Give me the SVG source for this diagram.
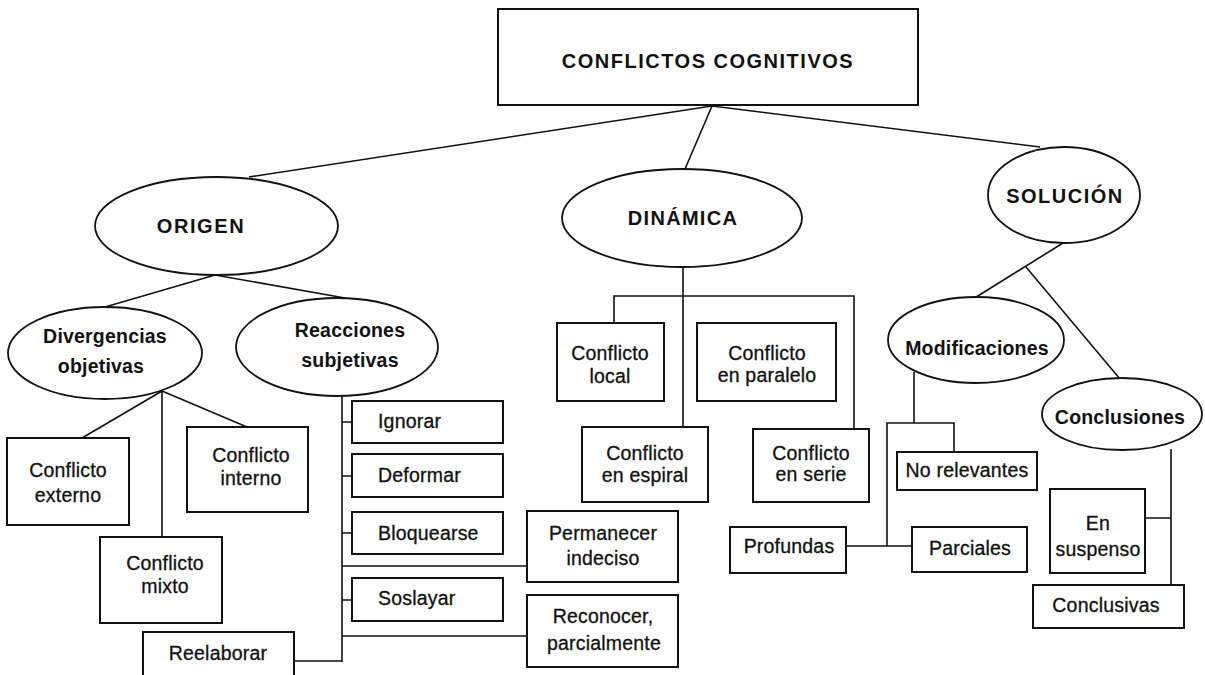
<svg xmlns="http://www.w3.org/2000/svg" width="1205" height="675" viewBox="0 0 1205 675">
<style>
  .box{fill:#fff;stroke:#111;stroke-width:2}
  .ell{fill:#fff;stroke:#111;stroke-width:1.8}
  .ln{fill:none;stroke:#111;stroke-width:1.6}
  .cap{font-family:"Liberation Sans",Arial,sans-serif;font-weight:bold;font-size:20px;fill:#111;text-anchor:middle}
  .b{font-family:"Liberation Sans",Arial,sans-serif;font-weight:bold;font-size:19.5px;fill:#111;text-anchor:middle;letter-spacing:0.2px}
  .t{font-family:"Liberation Sans",Arial,sans-serif;font-size:19.5px;fill:#111;stroke:#111;stroke-width:0.3;text-anchor:middle;letter-spacing:0.2px}
  .tl{font-family:"Liberation Sans",Arial,sans-serif;font-size:19.5px;fill:#111;stroke:#111;stroke-width:0.3;text-anchor:start;letter-spacing:0.2px}
</style>
<rect width="1205" height="675" fill="#fff"/>
<g id="connectors">
  <path class="ln" d="M712 106 L249 177 M712 106 L685 169 M712 106 L1040 147"/>
  <path class="ln" d="M215 275 L105 307 M215 275 L345 298"/>
  <path class="ln" d="M162 391 L82 438 M162 391 L162 537 M162 391 L247 427"/>
  <path class="ln" d="M342 397 L342 662 M294 661 L342 661 M342 422 L352 422 M342 476 L352 476 M342 533 L352 533 M342 600 L352 600 M342 566 L527 566 M342 636 L527 636"/>
  <path class="ln" d="M683 267 L683 427 M614 323 L614 296 L854 296 L854 429"/>
  <path class="ln" d="M1063 243 L973 299 M1026 267 L1120 379"/>
  <path class="ln" d="M914 372 L914 423 M887 546 L887 423 L954 423 L954 452 M846 546 L912 546"/>
  <path class="ln" d="M1171 449 L1171 585 M1145 518 L1171 518"/>
</g>
<g id="n-title"><rect class="box" x="498" y="9" width="420" height="96"/><text class="cap" x="708" y="68" style="letter-spacing:1.5px">CONFLICTOS COGNITIVOS</text></g>
<g id="n-origen"><ellipse class="ell" cx="216.5" cy="226" rx="121.5" ry="49"/><text class="cap" x="201" y="233" style="letter-spacing:1.6px">ORIGEN</text></g>
<g id="n-dinamica"><ellipse class="ell" cx="682" cy="218" rx="120" ry="49"/><text class="cap" x="683" y="225" style="letter-spacing:1.3px">DINÁMICA</text></g>
<g id="n-solucion"><ellipse class="ell" cx="1064" cy="195" rx="76" ry="48"/><text class="cap" x="1065" y="203" style="letter-spacing:1.5px">SOLUCIÓN</text></g>
<g id="n-divergencias"><ellipse class="ell" cx="105" cy="353" rx="97" ry="46"/><text class="b" x="105" y="343">Divergencias</text><text class="b" x="101" y="373">objetivas</text></g>
<g id="n-reacciones"><ellipse class="ell" cx="337" cy="347" rx="101" ry="49"/><text class="b" x="350" y="337">Reacciones</text><text class="b" x="350" y="367">subjetivas</text></g>
<g id="n-externo"><rect class="box" x="7" y="438" width="122" height="87"/><text class="t" x="68" y="477">Conflicto</text><text class="t" x="68" y="502">externo</text></g>
<g id="n-interno"><rect class="box" x="187" y="427" width="121" height="85"/><text class="t" x="251" y="462">Conflicto</text><text class="t" x="251" y="485">interno</text></g>
<g id="n-mixto"><rect class="box" x="100" y="537" width="122" height="86"/><text class="t" x="165" y="570">Conflicto</text><text class="t" x="165" y="593">mixto</text></g>
<g id="n-reelaborar"><rect class="box" x="143" y="632" width="151" height="50"/><text class="t" x="218" y="660">Reelaborar</text></g>
<g id="n-ignorar"><rect class="box" x="352" y="401" width="151" height="42"/><text class="tl" x="378" y="428">Ignorar</text></g>
<g id="n-deformar"><rect class="box" x="352" y="454" width="151" height="43"/><text class="tl" x="378" y="482">Deformar</text></g>
<g id="n-bloquearse"><rect class="box" x="352" y="512" width="151" height="42"/><text class="tl" x="378" y="540">Bloquearse</text></g>
<g id="n-soslayar"><rect class="box" x="352" y="578" width="151" height="43"/><text class="tl" x="378" y="605">Soslayar</text></g>
<g id="n-permanecer"><rect class="box" x="527" y="511" width="151" height="71"/><text class="t" x="603" y="540">Permanecer</text><text class="t" x="603" y="565">indeciso</text></g>
<g id="n-reconocer"><rect class="box" x="527" y="595" width="151" height="72"/><text class="t" x="603" y="623">Reconocer,</text><text class="t" x="604" y="650">parcialmente</text></g>
<g id="n-local"><rect class="box" x="557" y="323" width="107" height="78"/><text class="t" x="610" y="360">Conflicto</text><text class="t" x="610" y="383">local</text></g>
<g id="n-paralelo"><rect class="box" x="697" y="323" width="139" height="78"/><text class="t" x="767" y="360">Conflicto</text><text class="t" x="767" y="382">en paralelo</text></g>
<g id="n-espiral"><rect class="box" x="582" y="427" width="126" height="75"/><text class="t" x="645" y="460">Conflicto</text><text class="t" x="645" y="482">en espiral</text></g>
<g id="n-serie"><rect class="box" x="753" y="429" width="116" height="73"/><text class="t" x="811" y="460">Conflicto</text><text class="t" x="811" y="481">en serie</text></g>
<g id="n-modificaciones"><ellipse class="ell" cx="976" cy="340" rx="88" ry="43"/><text class="b" x="977" y="355">Modificaciones</text></g>
<g id="n-conclusiones"><ellipse class="ell" cx="1122" cy="414" rx="80" ry="36"/><text class="b" x="1120" y="424">Conclusiones</text></g>
<g id="n-norelevantes"><rect class="box" x="897" y="452" width="140" height="38"/><text class="t" x="967" y="477">No relevantes</text></g>
<g id="n-profundas"><rect class="box" x="730" y="527" width="116" height="46"/><text class="t" x="789" y="553">Profundas</text></g>
<g id="n-parciales"><rect class="box" x="912" y="527" width="115" height="45"/><text class="t" x="970" y="555">Parciales</text></g>
<g id="n-ensuspenso"><rect class="box" x="1050" y="489" width="95" height="84"/><text class="t" x="1098" y="530">En</text><text class="t" x="1098" y="556">suspenso</text></g>
<g id="n-conclusivas"><rect class="box" x="1033" y="585" width="151" height="43"/><text class="t" x="1106" y="612">Conclusivas</text></g>
</svg>
